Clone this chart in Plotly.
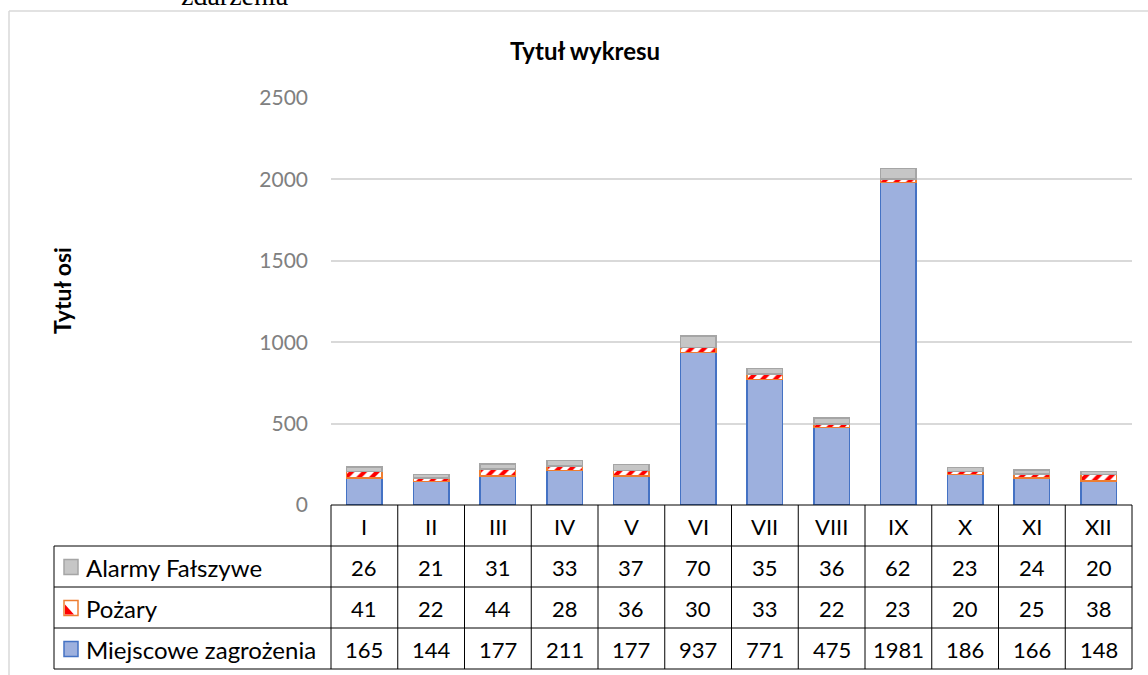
import plotly.graph_objects as go

months = ["I", "II", "III", "IV", "V", "VI", "VII", "VIII", "IX", "X", "XI", "XII"]
miejscowe = [165, 144, 177, 211, 177, 937, 771, 475, 1981, 186, 166, 148]
pozary = [41, 22, 44, 28, 36, 30, 33, 22, 23, 20, 25, 38]
alarmy = [26, 21, 31, 33, 37, 70, 35, 36, 62, 23, 24, 20]
series_names = ["Alarmy Fałszywe", "Pożary", "Miejscowe zagrożenia"]
y_ticks = [0, 500, 1000, 1500, 2000, 2500]

W, H = 1148, 675
FONT = "Lato"

def px(x):
    return x / W

def py(y):
    return 1 - y / H

# layout in pixels
PL, PR = 331, 1132
PT, PB = 98, 505
TL = 54
rows = [505, 546, 587, 628, 669]

fig = go.Figure()
fig.add_trace(go.Bar(x=months, y=miejscowe, name=series_names[2],
                     marker=dict(color="#9DB0DE", line=dict(color="#4472C4", width=1.5))))
fig.add_trace(go.Bar(x=months, y=pozary, name=series_names[1],
                     marker=dict(color="white", line=dict(color="#ED7D31", width=1.5),
                                 pattern=dict(shape="/", fgcolor="#FF0000", bgcolor="white",
                                              size=9, solidity=0.45))))
fig.add_trace(go.Bar(x=months, y=alarmy, name=series_names[0],
                     marker=dict(color="#C6C6C6", line=dict(color="#A5A5A5", width=1.5))))

shapes = []
annotations = []

def ann(x, y, text, size, family=FONT, xanchor="center", yanchor="middle", color="#000", **kw):
    annotations.append(dict(x=px(x), y=py(y), xref="paper", yref="paper", text=text, showarrow=False,
                            xanchor=xanchor, yanchor=yanchor,
                            font=dict(family=family, size=size, color=color), **kw))

# outer frame (top & left)
shapes.append(dict(type="line", xref="paper", yref="paper", x0=px(9), x1=px(1148), y0=py(11), y1=py(11),
                   line=dict(color="#D9D9D9", width=1.5)))
shapes.append(dict(type="line", xref="paper", yref="paper", x0=px(9), x1=px(9), y0=py(11), y1=py(675),
                   line=dict(color="#D9D9D9", width=1.5)))

# table lines
lc = dict(color="#000000", width=1)
shapes.append(dict(type="line", xref="paper", yref="paper", x0=px(PL), x1=px(PR), y0=py(rows[0]), y1=py(rows[0]), line=lc))
for r in rows[1:]:
    shapes.append(dict(type="line", xref="paper", yref="paper", x0=px(TL), x1=px(PR), y0=py(r), y1=py(r), line=lc))
shapes.append(dict(type="line", xref="paper", yref="paper", x0=px(TL), x1=px(TL), y0=py(rows[1]), y1=py(rows[4]), line=lc))
cw = (PR - PL) / len(months)
for i in range(len(months) + 1):
    xx = PL + i * cw
    shapes.append(dict(type="line", xref="paper", yref="paper", x0=px(xx), x1=px(xx), y0=py(rows[0]), y1=py(rows[4]), line=lc))

nfs = 22
lfs = 24
# header
for i, m in enumerate(months):
    ann(PL + (i + 0.5) * cw, (rows[0] + rows[1]) / 2 + 1, m, nfs)
data_rows = [alarmy, pozary, miejscowe]
for ri, (name, vals) in enumerate(zip(series_names, data_rows)):
    yc = (rows[ri + 1] + rows[ri + 2]) / 2 + 1
    ann(84, yc, name, lfs, xanchor="left")
    for i, v in enumerate(vals):
        ann(PL + (i + 0.5) * cw, yc, str(v), nfs)
    # legend key
    k0, k1 = 64, 78
    ky0, ky1 = yc - 8, yc + 7
    if ri == 0:
        shapes.append(dict(type="rect", xref="paper", yref="paper", x0=px(k0), x1=px(k1), y0=py(ky1), y1=py(ky0),
                           fillcolor="#C6C6C6", line=dict(color="#A5A5A5", width=1.5)))
    elif ri == 1:
        shapes.append(dict(type="rect", xref="paper", yref="paper", x0=px(k0), x1=px(k1), y0=py(ky1), y1=py(ky0),
                           fillcolor="white", line=dict(color="#ED7D31", width=1.5)))
        shapes.append(dict(type="path", xref="paper", yref="paper",
                           path=f"M {px(k0+1)} {py(ky0+4)} L {px(k1-4)} {py(ky1-1)} L {px(k0+1)} {py(ky1-1)} Z",
                           fillcolor="#FF0000", line=dict(width=0)))
    else:
        shapes.append(dict(type="rect", xref="paper", yref="paper", x0=px(k0), x1=px(k1), y0=py(ky1), y1=py(ky0),
                           fillcolor="#9DB0DE", line=dict(color="#4472C4", width=1.5)))

# titles
ann(585, 50, "<b>Tytuł wykresu</b>", 24)
ann(62, 291, "<b>Tytuł osi</b>", 23, textangle=-90)
ann(235, 13, "zdarzenia", 28, family="Liberation Serif", yanchor="bottom")

fig.update_layout(
    template="none",
    width=W, height=H, margin=dict(l=0, r=0, t=0, b=0, pad=0, autoexpand=False),
    paper_bgcolor="white", plot_bgcolor="white",
    barmode="stack", bargap=0.47, showlegend=False,
    shapes=shapes, annotations=annotations,
    xaxis=dict(domain=[px(PL), px(PR)], showticklabels=False, showgrid=False, zeroline=False, showline=False,
               ticks="", automargin=False),
    yaxis=dict(domain=[py(PB), py(PT)], range=[0, 2500], tickvals=y_ticks, showgrid=True, gridcolor="#D9D9D9",
               gridwidth=1.5, zeroline=False, showline=False, ticks="", ticklabelstandoff=22, automargin=False,
               tickfont=dict(family=FONT, size=21, color="#808080")),
    font=dict(family=FONT),
)

fig.write_html("out.html", config={"displayModeBar": False},
               post_script="document.body.style.margin='0';document.body.style.overflow='hidden';")
